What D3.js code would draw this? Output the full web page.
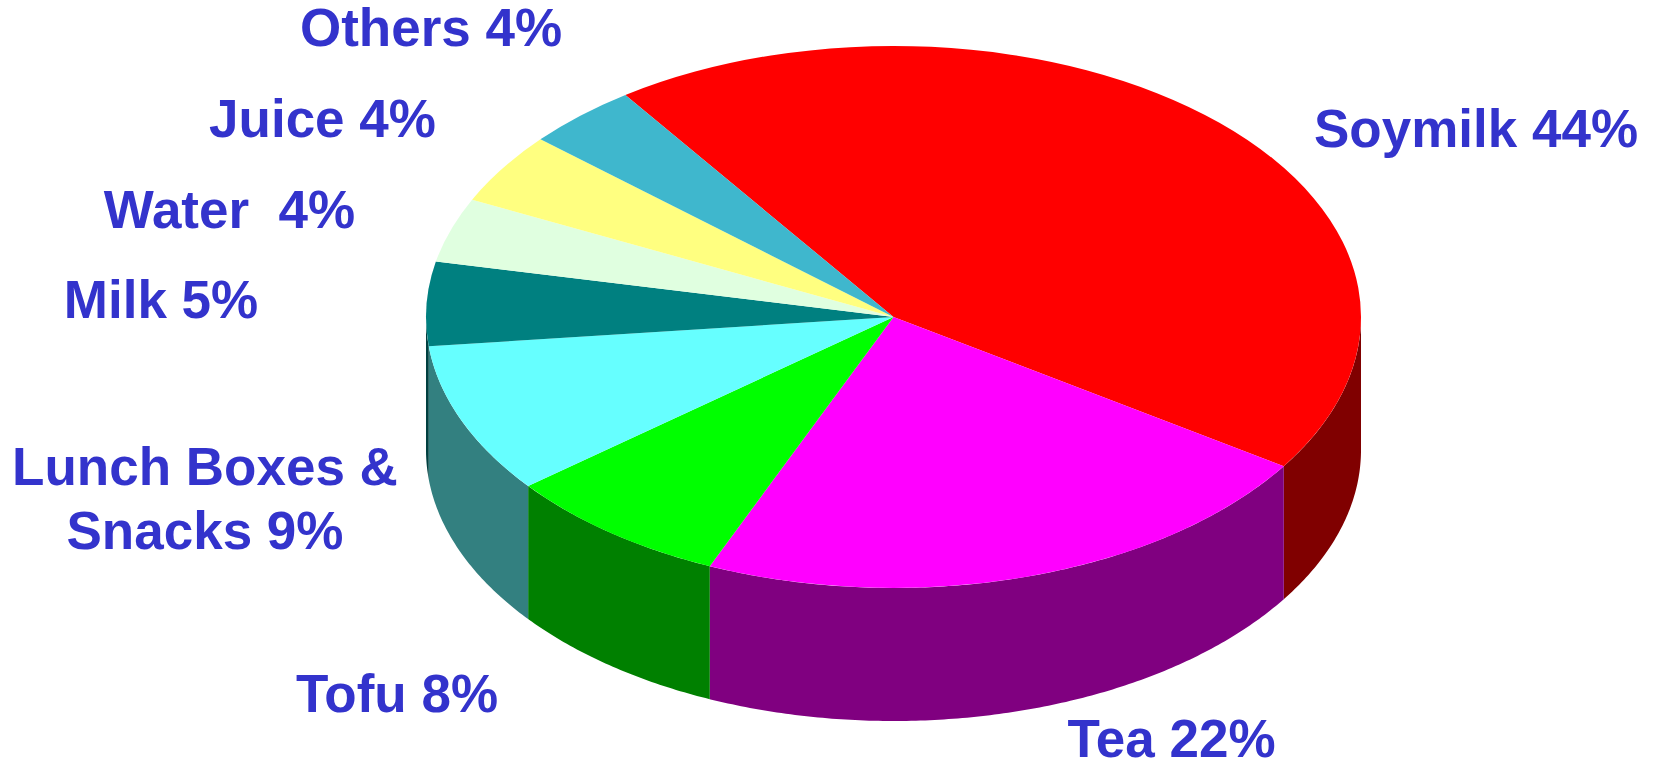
<!DOCTYPE html>
<html>
<head>
<meta charset="utf-8">
<script src="https://cdn.jsdelivr.net/npm/d3@7"></script>
<style>
  html, body { margin: 0; padding: 0; background: #fff; }
  svg { display: block; }
  text { font-family: "Liberation Sans", Arial, sans-serif; font-weight: bold; fill: #3333cc; white-space: pre; }
</style>
</head>
<body>
<div id="pie"></div>
<script>
// slice sizes, the labels show them rounded
const categories = ['Soymilk', 'Tea', 'Tofu', 'Lunch Boxes & Snacks', 'Milk', 'Water', 'Juice', 'Others'];
const shares = [44, 22.15, 7.85, 9, 5, 3.85, 4.25, 3.9];
const topColors = ['#ff0000', '#ff00ff', '#00ff00', '#66ffff', '#008080', '#e0ffe0', '#ffff80', '#3fb7cd'];
const sideColors = ['#800000', '#800080', '#008000', '#338080', '#004040', '#708070', '#808040', '#205c66'];
const labelLines = [['Soymilk 44%'], ['Tea 22%'], ['Tofu 8%'], ['Lunch Boxes &', 'Snacks 9%'], ['Milk 5%'], ['Water  4%'], ['Juice 4%'], ['Others 4%']];

const width = 1654;
const height = 760;

// pie geometry
const cx = 893.5;
const cy = 317;
const rx = 467.5;
const ry = 271;
const depth = 133;
const startAt = -35 * Math.PI / 180;

// centre x and baseline of each label's lines
const labelSpots = [
    {x: 1476, y: [147]},
    {x: 1171.5, y: [757]},
    {x: 397, y: [712]},
    {x: 205, y: [485, 549]},
    {x: 161, y: [318]},
    {x: 229.5, y: [228]},
    {x: 322.5, y: [137]},
    {x: 431, y: [46]}
];

const svg = d3.select('#pie')
    .append('svg')
    .attr('width', width)
    .attr('height', height);

const slices = d3.pie().sort(null)
    .startAngle(startAt)
    .endAngle(startAt + 2 * Math.PI)(shares);

// side wall, only the part of a slice that faces the viewer
const wall = d3.area()
    .x(a => cx + rx * Math.sin(a))
    .y0(a => cy - ry * Math.cos(a))
    .y1(a => cy - ry * Math.cos(a) + depth);

function frontAngles(d) {
    const a0 = Math.max(d.startAngle, Math.PI / 2);
    const a1 = Math.min(d.endAngle, 3 * Math.PI / 2);
    if (a1 <= a0) return [];
    return d3.range(a0, a1, 0.01).concat([a1]);
}

svg.append('g').selectAll('path')
    .data(slices)
    .join('path')
    .attr('d', d => wall(frontAngles(d)))
    .attr('fill', (d, i) => sideColors[i]);

const arc = d3.arc().innerRadius(0).outerRadius(rx);

svg.append('g')
    .attr('transform', `translate(${cx}, ${cy}) scale(1, ${ry / rx})`)
    .selectAll('path')
    .data(slices)
    .join('path')
    .attr('d', arc)
    .attr('fill', (d, i) => topColors[i]);

labelLines.forEach(function(lines, i) {
    lines.forEach(function(line, j) {
        svg.append('text')
            .attr('x', labelSpots[i].x)
            .attr('y', labelSpots[i].y[j])
            .attr('text-anchor', 'middle')
            .style('font-size', '53px')
            .text(line);
    });
});
</script>
</body>
</html>
